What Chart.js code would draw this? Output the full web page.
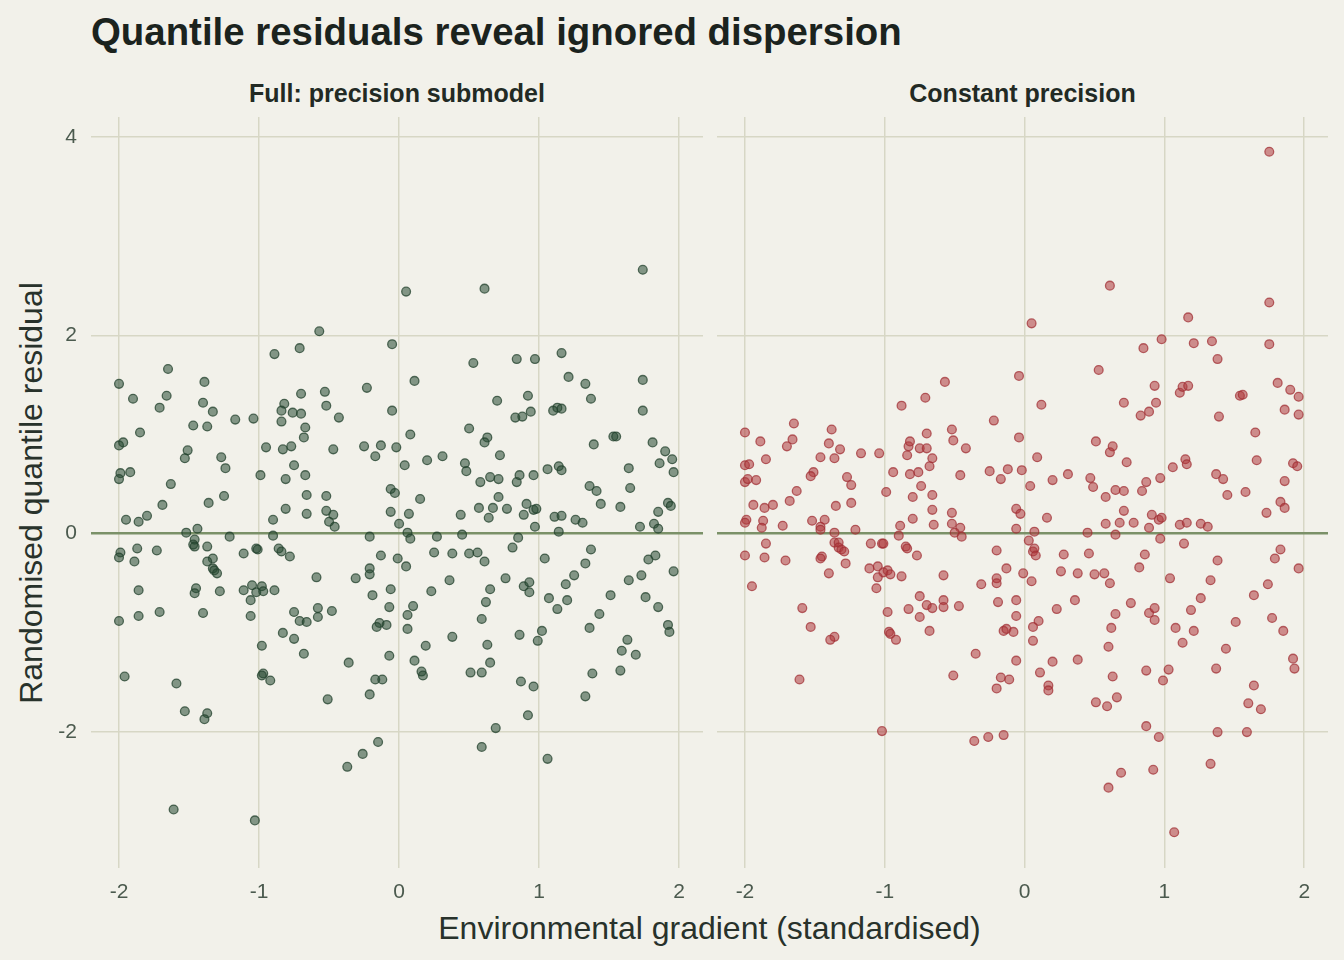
<!DOCTYPE html>
<html>
<head>
<meta charset="utf-8">
<script src="https://cdn.jsdelivr.net/npm/chart.js@4.4.1/dist/chart.umd.min.js"></script>
<style>
html,body{margin:0;padding:0;background:#f2f1ea;}
body{width:1344px;height:960px;position:relative;overflow:hidden;font-family:"Liberation Sans",Arial,Helvetica,sans-serif;}
.t{position:absolute;white-space:nowrap;line-height:1;}
#title{left:91px;top:13px;font-size:38.4px;font-weight:bold;color:#1b231e;}
.strip{top:81px;font-size:25px;font-weight:bold;color:#222a24;transform:translateX(-50%);}
#xtitle{left:709.5px;top:912px;font-size:32px;color:#28322b;transform:translateX(-50%);}
#ytitle{left:31px;top:493px;font-size:32px;color:#28322b;transform:translate(-50%,-50%) rotate(-90deg);}
canvas{position:absolute;top:110px;}
#c1{left:0px;}
#c2{left:710px;}
</style>
</head>
<body>
<div id="title" class="t">Quantile residuals reveal ignored dispersion</div>
<div class="t strip" style="left:397px;">Full: precision submodel</div>
<div class="t strip" style="left:1022.5px;">Constant precision</div>
<div id="xtitle" class="t">Environmental gradient (standardised)</div>
<div id="ytitle" class="t">Randomised quantile residual</div>
<canvas id="c1" width="710" height="810"></canvas>
<canvas id="c2" width="634" height="810"></canvas>
<script>
// ---- Data ----
const panelTitles = ["Full: precision submodel", "Constant precision"];
const xTicks = [-2, -1, 0, 1, 2];
const xTickLabels = ["-2", "-1", "0", "1", "2"];
const yTicks = [-2, 0, 2, 4];
const yTickLabels = ["-2", "0", "2", "4"];

// Panel 1: full model (precision submodel)
const xFull = [
-0.57,-0.89,-0.71,-0.05,-1.65,-2.00,-1.39,-1.90,-1.66,-1.71,-1.40,-1.33,-1.17,-1.04,-1.47,-1.37,-1.85,-0.70,-0.53,-0.23,
-0.82,-0.84,-0.76,-0.70,-0.52,-0.43,-0.84,-0.67,-0.68,-0.05,-2.00,-1.97,-1.51,-1.53,-1.27,-1.24,-1.99,-1.92,-2.00,-1.63,
-1.69,-1.36,-1.25,-1.95,-1.86,-1.80,-1.52,-1.44,-1.21,-0.99,-0.95,-0.83,-0.77,-0.75,-0.81,-0.67,-0.47,-0.25,-0.17,-0.13,
-0.02,-0.66,-0.52,-0.81,-0.66,-0.52,-0.47,-0.50,-0.46,-0.90,-0.90,-0.21,-0.06,-0.03,-0.06,0.00,
1.74,0.05,0.61,0.53,0.84,0.97,1.16,0.11,1.21,1.33,1.74,0.70,0.92,1.37,1.74,0.83,0.88,0.94,1.10,1.13,
1.16,0.08,0.50,0.63,0.61,0.72,1.53,1.55,1.39,1.81,1.90,1.95,1.86,1.96,1.64,1.65,1.36,1.41,1.44,1.58,
1.92,1.94,1.85,1.82,1.85,1.72,0.04,0.20,0.31,0.47,0.48,0.58,0.65,0.71,0.84,0.86,0.96,1.06,1.14,1.16,
0.15,0.07,0.06,0.08,0.27,0.44,0.45,0.57,0.64,0.67,0.71,0.77,0.85,0.91,0.89,0.96,0.98,0.97,1.11,1.16,
1.14,1.26,1.31,
-1.99,-2.00,-1.87,-1.89,-1.73,-1.46,-1.47,-1.46,-1.37,-1.33,-1.37,-1.33,-1.32,-1.30,-1.11,-1.02,-1.01,-0.86,-0.84,-0.78,
-1.86,-2.00,-1.86,-1.71,-1.45,-1.46,-1.28,-1.40,-1.11,-1.05,-0.98,-1.02,-0.97,-0.89,-1.06,-1.06,-0.98,-0.97,-0.98,-0.92,
-0.83,-0.75,-0.71,-0.66,-0.75,-0.68,-0.59,-0.58,-0.58,-0.48,-0.31,-0.21,-0.21,-0.13,-0.01,-0.19,-0.06,-0.07,-0.14,-0.16,
-0.09,-0.07,-0.36,-0.17,-0.12,-0.21,-0.51,-1.96,-1.59,-1.53,-1.37,-1.39,-0.15,-0.26,-0.37,-1.61,-1.03,
0.05,0.25,0.38,0.50,0.56,0.61,0.81,0.36,0.23,0.10,0.06,0.06,0.19,0.11,0.16,0.17,0.38,0.65,0.62,0.59,
0.76,0.89,0.93,0.93,0.63,0.65,0.51,0.59,0.86,1.02,0.99,0.87,0.96,0.92,0.69,0.59,1.06,1.04,1.07,1.13,
1.20,1.19,1.25,1.33,1.37,1.43,1.36,1.38,1.33,1.51,1.64,1.73,1.78,1.83,1.96,1.76,1.85,1.92,1.93,1.63,
1.59,1.69,1.58
];
const yFull = [
2.04,1.81,1.87,1.91,1.66,1.51,1.53,1.36,1.39,1.27,1.32,1.23,1.15,1.16,1.09,1.08,1.02,1.41,1.43,1.47,
1.31,1.24,1.22,1.21,1.29,1.17,1.13,1.07,0.97,1.24,0.89,0.92,0.84,0.76,0.77,0.66,0.61,0.62,0.55,0.50,
0.29,0.31,0.38,0.14,0.12,0.18,0.01,0.05,-0.03,0.59,0.87,0.85,0.88,0.69,0.55,0.59,0.85,0.88,0.78,0.89,
0.87,0.39,0.38,0.25,0.20,0.23,0.19,0.12,0.07,0.14,-0.02,-0.03,0.45,0.41,0.22,0.10,
2.66,2.44,2.47,1.72,1.76,1.76,1.82,1.54,1.58,1.51,1.55,1.34,1.39,1.36,1.24,1.17,1.18,1.23,1.24,1.27,
1.26,1.00,1.06,0.97,0.92,0.79,0.98,0.98,0.90,0.92,0.83,0.75,0.71,0.62,0.66,0.46,0.48,0.43,0.30,0.27,
0.31,0.28,0.22,0.10,0.05,0.07,0.69,0.74,0.78,0.71,0.63,0.52,0.57,0.55,0.52,0.59,0.59,0.65,0.68,0.64,
0.35,0.20,0.01,-0.05,-0.03,0.19,-0.01,0.26,0.16,0.26,0.37,0.25,-0.04,0.30,0.19,0.24,0.25,0.07,0.17,0.18,
0.02,0.14,0.11,
-0.19,-0.24,-0.15,-0.28,-0.17,-0.06,-0.11,-0.13,-0.13,-0.25,-0.28,-0.35,-0.37,-0.40,-0.20,-0.15,-0.16,-0.15,-0.18,-0.23,
-0.57,-0.88,-0.83,-0.79,-0.55,-0.60,-0.58,-0.80,-0.57,-0.52,-0.53,-0.59,-0.58,-0.57,-0.67,-0.83,-1.13,-1.41,-1.43,-1.48,
-1.00,-0.79,-0.88,-0.89,-1.06,-1.21,-0.44,-0.75,-0.84,-0.78,-0.45,-0.35,-0.41,-0.22,-0.25,-0.62,-0.56,-0.74,-0.90,-0.94,
-0.92,-1.23,-1.30,-1.47,-1.47,-1.62,-1.67,-1.44,-1.51,-1.79,-1.81,-1.87,-2.10,-2.22,-2.35,-2.78,-2.89,
-0.33,-0.19,-0.20,-0.20,-0.19,-0.28,-0.14,-0.47,-0.58,-0.73,-0.82,-0.96,-1.13,-1.28,-1.39,-1.43,-1.04,-0.56,-0.69,-0.86,
-0.45,-0.53,-0.49,-0.59,-1.12,-1.30,-1.40,-1.40,-1.02,-0.98,-1.08,-1.49,-1.54,-1.83,-1.96,-2.15,-2.27,-0.25,-0.65,-0.76,
-0.67,-0.51,-0.42,-0.30,-0.16,-0.81,-0.95,-1.41,-1.64,-0.62,-0.47,-0.42,-0.26,-0.22,-0.38,-0.64,-0.74,-0.92,-0.99,-1.07,
-1.18,-1.22,-1.38
];

// Panel 2: constant precision model
const xConst = [
-0.57,-0.88,-0.71,-0.04,-1.65,-2.00,-1.38,-1.89,-1.66,-1.70,-1.40,-1.32,-1.36,-1.46,-1.17,-1.04,-1.85,-2.00,-1.97,-2.00,
-1.98,-1.92,-1.51,-1.53,-1.27,-1.24,-1.63,-1.94,-1.86,-1.80,-1.68,-1.35,-1.24,-1.99,-2.00,-1.87,-1.88,-1.73,-1.52,-1.43,
-1.46,-1.46,-1.36,-1.21,-0.99,-0.94,-0.84,-0.83,-0.82,-0.75,-0.70,-0.70,-0.66,-0.68,-0.52,-0.51,-0.42,-0.82,-0.76,-0.74,
-0.80,-0.66,-0.46,-0.22,-0.25,-0.17,-0.12,-0.04,-0.02,-0.66,-0.80,-0.65,-0.52,-0.52,-0.46,-0.50,-0.45,-0.89,-0.90,-0.06,
-0.03,-0.06,
1.75,0.61,0.05,1.75,1.17,0.98,0.85,1.21,1.34,1.38,1.75,0.53,0.12,0.93,1.11,1.13,1.17,0.71,0.94,0.89,
0.83,1.39,1.54,1.56,1.81,1.90,1.96,1.86,1.96,1.65,1.66,1.92,1.95,1.86,1.83,1.86,1.73,1.58,1.37,1.42,
1.45,1.26,1.31,1.11,1.16,1.15,1.16,1.06,0.97,0.87,0.84,0.91,0.96,0.98,0.89,0.97,0.71,0.78,0.68,0.58,
0.65,0.73,0.63,0.61,0.51,0.47,0.49,0.65,0.71,0.58,0.31,0.20,0.09,0.04,0.16,0.07,0.45,
-1.85,-2.00,-1.86,-1.71,-1.95,-1.36,-1.33,-1.33,-1.31,-1.29,-1.45,-1.46,-1.28,-1.40,-1.10,-1.02,-1.01,-0.85,-0.84,-0.77,
-1.11,-1.05,-0.98,-1.01,-0.96,-1.05,-1.06,-0.88,-0.98,-0.97,-0.96,-0.92,-0.83,-0.75,-0.70,-0.66,-0.75,-0.68,-0.58,-0.58,
-0.58,-0.47,-0.31,-0.20,-0.13,-0.20,-0.20,-0.01,-0.19,-0.06,-0.06,-0.15,-0.13,-0.08,-0.06,-0.35,-0.51,-0.17,-0.11,-0.20,
-1.59,-1.53,-1.36,-1.39,-1.61,-1.02,-0.36,-0.26,-0.15,
0.03,0.06,0.07,0.08,0.05,0.28,0.46,0.26,0.38,0.50,0.57,0.61,0.36,0.23,0.10,0.06,0.06,0.20,0.11,0.17,
0.17,0.38,0.65,0.62,0.60,0.76,0.82,0.86,1.14,1.04,0.89,0.93,0.93,0.63,0.51,0.59,0.66,0.87,1.03,0.99,
0.87,0.96,0.69,0.60,0.92,1.07,1.08,1.13,1.21,1.19,1.26,1.33,1.38,1.44,1.37,1.38,1.33,1.51,1.64,1.74,
1.79,1.83,1.96,1.77,1.85,1.92,1.93,1.64,1.60,1.69,1.59
];
const yConst = [
1.53,1.29,1.37,1.59,1.11,1.02,1.05,0.93,0.95,0.88,0.91,0.85,0.76,0.77,0.81,0.81,0.75,0.69,0.70,0.52,
0.55,0.54,0.62,0.58,0.57,0.49,0.43,0.29,0.26,0.29,0.33,0.28,0.31,0.14,0.11,0.13,0.06,0.08,0.13,0.14,
0.07,0.04,0.01,0.04,0.42,0.62,0.79,0.88,0.93,0.86,0.86,1.01,0.76,0.68,1.05,0.94,0.86,0.60,0.62,0.48,
0.37,0.39,0.59,1.14,0.63,0.55,0.65,0.97,0.64,0.24,0.15,0.09,0.21,0.10,0.06,0.01,-0.03,0.08,-0.02,0.25,
0.20,0.05,
3.85,2.50,2.12,2.33,2.18,1.96,1.87,1.92,1.94,1.76,1.91,1.65,1.30,1.49,1.42,1.48,1.49,1.32,1.32,1.23,
1.19,1.18,1.39,1.40,1.52,1.45,1.38,1.25,1.20,1.02,0.74,0.71,0.68,0.53,0.32,0.26,0.21,0.42,0.60,0.55,
0.39,0.10,0.07,0.09,0.11,0.75,0.70,0.67,0.56,0.52,0.43,0.19,0.14,0.16,0.06,-0.05,0.23,0.11,0.11,0.10,
-0.01,0.72,0.88,0.82,0.93,0.56,0.47,0.44,0.43,0.37,0.60,0.54,0.77,0.48,0.16,0.02,0.01,
-0.10,-0.22,-0.24,-0.27,-0.53,-0.09,-0.09,-0.14,-0.16,-0.18,-0.23,-0.25,-0.30,-0.40,-0.10,-0.10,-0.10,-0.13,-0.15,-0.22,
-0.35,-0.33,-0.37,-0.39,-0.41,-0.44,-0.55,-0.43,-0.79,-0.99,-1.01,-1.07,-0.76,-0.63,-0.72,-0.75,-0.84,-0.98,-0.42,-0.67,
-0.74,-0.73,-0.51,-0.17,-0.35,-0.45,-0.50,-0.40,-0.69,-0.67,-0.83,-0.98,-0.96,-0.99,-1.28,-1.21,-1.43,-1.45,-1.47,-1.56,
-0.75,-0.94,-1.04,-1.07,-1.47,-1.99,-2.09,-2.05,-2.03,
-0.07,-0.18,-0.15,-0.22,-0.48,-0.21,-0.20,-0.38,-0.40,-0.41,-0.40,-0.50,-0.67,-0.76,-0.88,-0.94,-1.08,-1.29,-1.40,-1.53,
-1.58,-1.27,-0.81,-0.95,-1.14,-0.70,-0.34,-0.21,-0.10,-0.45,-0.80,-0.75,-0.87,-1.44,-1.70,-1.74,-1.65,-1.38,-1.37,-1.48,
-1.94,-2.05,-2.41,-2.56,-2.38,-3.01,-0.95,-1.10,-0.98,-0.77,-0.65,-0.47,-0.27,-1.16,-1.36,-2.00,-2.32,-0.89,-0.62,-0.51,
-0.25,-0.16,-0.35,-0.85,-0.98,-1.26,-1.36,-1.53,-1.71,-1.77,-2.00
];

// Axis limits (data range with 5% expansion)
const xLimits = [-2.2, 2.17];
const yLimits = [-3.37, 4.2];

// ---- Styling ----
const FONT = '"Liberation Sans", Arial, Helvetica, sans-serif';
const GRID = '#d7d7c5';
const ZERO = '#7b9168';
const TICK = '#4b5a4e';
Chart.defaults.font.family = FONT;

function makeChart(id, xs, ys, fill, stroke, showYLabels, yWidth, padRight) {
  const pts = xs.map((x, i) => ({ x: x, y: ys[i] }));
  return new Chart(document.getElementById(id), {
    type: 'scatter',
    data: { datasets: [{
      data: pts,
      pointRadius: 4.4,
      pointBorderWidth: 1.3,
      backgroundColor: fill,
      borderColor: stroke,
      pointHoverRadius: 4.4
    }]},
    options: {
      responsive: false,
      animation: false,
      devicePixelRatio: 1,
      events: [],
      layout: { padding: { top: 7, right: padRight, left: 0, bottom: 0 } },
      plugins: { legend: { display: false }, tooltip: { enabled: false }, title: { display: false } },
      scales: {
        x: {
          type: 'linear',
          min: xLimits[0], max: xLimits[1],
          afterBuildTicks: s => { s.ticks = xTicks.map(v => ({ value: v })); },
          afterFit: s => { s.height = 52; s.paddingLeft = 0; s.paddingRight = 0; },
          border: { display: false },
          grid: { color: GRID, lineWidth: 1.5, drawTicks: false },
          ticks: {
            color: TICK, font: { size: 21, family: FONT }, padding: 12,
            autoSkip: false, maxRotation: 0,
            callback: (v) => xTickLabels[xTicks.indexOf(v)]
          }
        },
        y: {
          type: 'linear',
          min: yLimits[0], max: yLimits[1],
          afterBuildTicks: s => { s.ticks = yTicks.map(v => ({ value: v })); },
          afterFit: s => { s.width = yWidth; s.paddingTop = 0; s.paddingBottom = 0; },
          border: { display: false },
          grid: {
            drawTicks: false,
            color: c => (c.tick && c.tick.value === 0) ? ZERO : GRID,
            lineWidth: c => (c.tick && c.tick.value === 0) ? 2.6 : 1.5
          },
          ticks: {
            display: showYLabels,
            color: TICK, font: { size: 21, family: FONT }, padding: 14,
            autoSkip: false,
            callback: (v) => yTickLabels[yTicks.indexOf(v)]
          }
        }
      }
    }
  });
}

makeChart('c1', xFull, yFull, 'rgba(38,72,50,0.55)', 'rgba(34,64,44,0.75)', true, 91, 7);
makeChart('c2', xConst, yConst, 'rgba(175,57,60,0.55)', 'rgba(160,45,50,0.72)', false, 7, 16);
</script>
</body>
</html>
